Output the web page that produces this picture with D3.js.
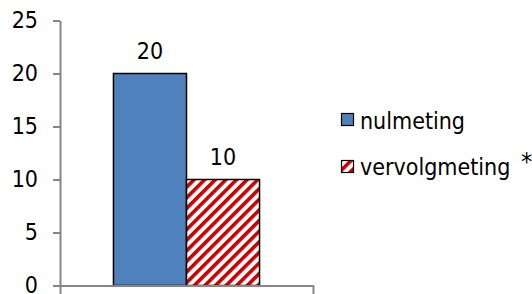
<!DOCTYPE html>
<html><head><meta charset="utf-8">
<script src="https://cdn.jsdelivr.net/npm/d3@7"></script>
<style>
html,body{margin:0;padding:0;background:#fff;}
svg{display:block;}
text{font-family:"DejaVu Sans Condensed","DejaVu Sans",sans-serif;fill:#000;}
</style></head>
<body><svg id="c" width="532" height="294"></svg>
<script>
const categories = [""];
const seriesNames = ["nulmeting", "vervolgmeting"];
const seriesValues = [20, 10];
const yTicks = [0, 5, 10, 15, 20, 25];
const legendNote = "*";

const svg = d3.select("#c");
const x0 = d3.scaleBand().domain(categories).range([60, 313]).paddingInner(0).paddingOuter(0.366);
const x1 = d3.scaleBand().domain(seriesNames).range([0, x0.bandwidth()]);
const y = d3.scaleLinear().domain([0, 25]).range([285.5, 20.5]);

const defs = svg.append("defs");
const pat = defs.append("pattern").attr("id","hatch").attr("patternUnits","userSpaceOnUse")
  .attr("width",7.5).attr("height",7.5).attr("patternTransform","rotate(45)");
pat.append("rect").attr("width",7.5).attr("height",7.5).attr("fill","#fff");
pat.append("rect").attr("x",0).attr("width",3.6).attr("height",7.5).attr("fill","#cc0000");

const fills = ["#4f81bd","url(#hatch)"];
const FS = 23;

// y axis
const yAxis = d3.axisLeft(y).tickValues(yTicks).tickSize(7).tickPadding(15).tickSizeOuter(0);
const gy = svg.append("g").attr("transform","translate(60,0)").call(yAxis);
gy.select(".domain").attr("stroke","#868686").attr("stroke-width",2);
gy.selectAll(".tick line").attr("stroke","#868686").attr("stroke-width",2);
gy.selectAll(".tick text").attr("font-size",FS).attr("font-family",null).attr("fill","#000");

// bars
const g = svg.append("g");
g.selectAll("rect").data(seriesValues).join("rect")
  .attr("x",(d,i)=>x0(categories[0])+x1(seriesNames[i]))
  .attr("y",d=>y(d))
  .attr("width",x1.bandwidth())
  .attr("height",d=>y(0)-y(d))
  .attr("fill",(d,i)=>fills[i])
  .attr("stroke","#000").attr("stroke-width",1.5);

g.selectAll("text.lbl").data(seriesValues).join("text").attr("class","lbl")
  .attr("x",(d,i)=>x0(categories[0])+x1(seriesNames[i])+x1.bandwidth()/2)
  .attr("y",d=>y(d)-15)
  .attr("text-anchor","middle").attr("font-size",FS)
  .text(d=>d);

// x axis
const xr = x0.range();
const xAxis = d3.axisBottom(d3.scaleLinear().domain([0,1]).range(xr)).tickValues([0,1]).tickSize(9).tickFormat("").tickSizeOuter(0);
const gx = svg.append("g").attr("transform",`translate(0,${y(0)})`).call(xAxis);
gx.select(".domain").attr("stroke","#868686").attr("stroke-width",2);
gx.selectAll(".tick line").attr("stroke","#868686").attr("stroke-width",2);

// legend
const lg = svg.append("g");
seriesNames.forEach((s,i)=>{
  const yy = 119.5 + i*47;
  lg.append("rect").attr("x",341.5).attr("y",yy-6).attr("width",12).attr("height",12)
    .attr("fill",fills[i]).attr("stroke","#000").attr("stroke-width",1.2);
  lg.append("text").attr("x",360).attr("y",128.5 + i*46).attr("font-size",FS).text(s);
});
lg.append("text").attr("x",521).attr("y",170).attr("font-size",25).text(legendNote);
</script></body></html>
